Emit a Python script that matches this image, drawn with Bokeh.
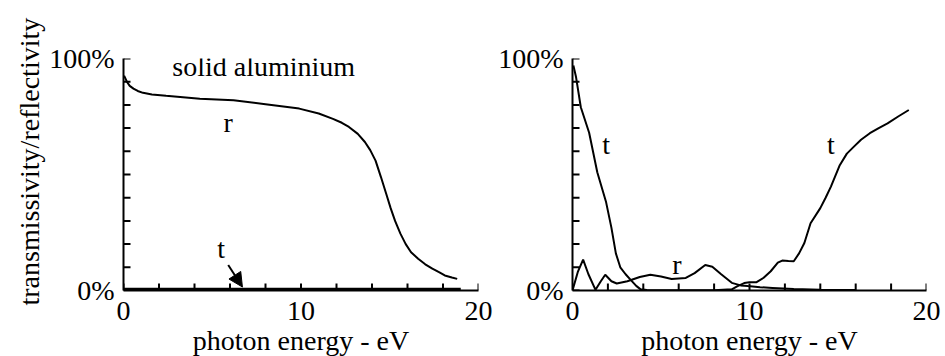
import math
from bokeh.plotting import figure
from bokeh.layouts import row
from bokeh.models import FixedTicker, Arrow, NormalHead, Range1d, Title
from bokeh.core.properties import value
from bokeh.embed import file_html
from bokeh.resources import INLINE

FONT = "Liberation Serif"

# ---- data (photon energy in eV, percent) ----
left_r_x = [0.0, 0.04, 0.19, 0.35, 0.56, 0.8, 1.1, 1.6, 2.4, 4.3, 6.2, 8.0, 9.9, 11.0, 11.8,
            12.3, 12.7, 13.2, 13.6, 13.9, 14.2, 14.5, 14.8, 15.05, 15.3, 15.6, 15.9, 16.2,
            16.6, 17.0, 17.4, 17.8, 18.1, 18.5, 18.8]
left_r_y = [92, 92.5, 90, 88.2, 87, 86, 85.2, 84.5, 83.9, 82.7, 82, 80.3, 78.4, 76.3, 74,
            72.3, 70.5, 67.5, 64, 60.5, 56, 49, 41.7, 35.5, 30, 24.5, 20, 16.5,
            13.7, 11.3, 9.4, 7.8, 6.5, 5.6, 5]
left_t_x = [0.0, 5.0, 10.0, 15.0, 19.0]
left_t_y = [0.4, 0.4, 0.4, 0.4, 0.4]

right_t_x = [0.05, 0.2, 0.47, 0.94, 1.4, 1.9, 2.2, 2.45, 2.7, 3.0, 3.3, 3.6, 3.85, 4.2, 6.0,
             8.0, 9.0, 9.3, 9.7, 10.0, 10.4, 10.8, 11.2, 11.6, 11.85, 12.2, 12.5, 12.8, 13.1,
             13.45, 14.0, 14.3, 14.6, 15.1, 15.5, 15.9, 16.3, 16.8, 17.3, 17.8, 18.4, 19.0]
right_t_y = [97, 92, 79, 68, 51, 38, 27, 16, 10, 7, 4.5, 2, 0.5, 0.2, 0.1,
             0.1, 0.5, 1.8, 3.2, 3.6, 3.6, 5.5, 8.3, 12, 12.9, 12.7, 12.6, 16, 20.5,
             29, 35.5, 40, 44.8, 54, 59, 62, 65, 67.8, 70, 72, 75, 77.8]
right_r_x = [0.0, 0.3, 0.6, 0.9, 1.3, 1.6, 1.85, 2.2, 2.5, 3.1, 3.8, 4.4, 5.0, 5.6, 6.4, 6.9,
             7.5, 7.9, 8.4, 9.0, 9.5, 9.9, 10.6, 11.3, 12.5, 14.0, 16.0]
right_r_y = [0, 8, 13.3, 7, 0.3, 4, 6.8, 4, 3, 4, 5.8, 6.8, 6, 5, 5.4, 7.5,
             11, 10.2, 7, 3.3, 2.2, 1.9, 1.4, 1.1, 0.6, 0.3, 0.2]

x_ticks = [0, 2, 4, 6, 8, 10, 12, 14, 16, 18, 20]
x_tick_labels = {0: "0", 2: "", 4: "", 6: "", 8: "", 10: "10", 12: "", 14: "", 16: "", 18: "", 20: "20"}
y_ticks = [0, 10, 20, 30, 40, 50, 60, 70, 80, 90, 100]
y_tick_labels = {0: "0%", 10: "", 20: "", 30: "", 40: "", 50: "", 60: "", 70: "", 80: "", 90: "", 100: "100%"}

FRAME_H = 232
TICK_PX = 7


def make_fig(fw, bl, br):
    p = figure(frame_width=fw, frame_height=FRAME_H, output_backend="svg", toolbar_location=None,
               x_range=Range1d(0, 20), y_range=Range1d(0, 100),
               min_border_left=bl, min_border_right=br, min_border_top=58, min_border_bottom=60)
    p.outline_line_color = None
    p.xgrid.visible = False
    p.ygrid.visible = False
    p.background_fill_color = None
    p.border_fill_color = "white"
    p.xaxis.ticker = FixedTicker(ticks=x_ticks)
    p.yaxis.ticker = FixedTicker(ticks=y_ticks)
    p.xaxis.major_label_overrides = x_tick_labels
    p.yaxis.major_label_overrides = y_tick_labels
    for ax in (p.xaxis, p.yaxis):
        ax.axis_line_width = 2
        ax.axis_line_color = "black"
        ax.major_tick_in = 0
        ax.major_tick_out = 0
        ax.major_tick_line_color = None
        ax.minor_tick_line_color = None
        ax.major_label_text_font = FONT
        ax.major_label_text_font_size = "28px"
        ax.major_label_text_color = "black"
        ax.axis_label_text_font = FONT
        ax.axis_label_text_font_size = "28px"
        ax.axis_label_text_font_style = "normal"
        ax.axis_label_text_color = "black"
    p.xaxis.major_label_standoff = 11
    p.yaxis.major_label_standoff = 9
    p.xaxis.axis_label = "photon energy - eV"
    p.xaxis.axis_label_standoff = 2
    # inward tick marks (length converted from pixels to data units)
    ty = TICK_PX * 100.0 / FRAME_H
    tx = TICK_PX * 20.0 / fw
    p.segment(x0=x_ticks, y0=0, x1=x_ticks, y1=ty, line_color="black", line_width=2)
    p.segment(x0=0, y0=y_ticks, x1=tx, y1=y_ticks, line_color="black", line_width=2)
    return p


left = make_fig(355, 123, 17)
left.line(left_r_x, left_r_y, line_color="black", line_width=2)
left.line(left_t_x, left_t_y, line_color="black", line_width=3.5)
left.add_layout(Arrow(end=NormalHead(size=14, fill_color="black", line_color="black"),
                      x_start=5.9, y_start=11, x_end=6.7, y_end=1.5,
                      line_width=2, line_color="black"))
left.text(x=[7.9, 5.9, 5.5], y=[96.4, 72.6, 18], text=["solid aluminium", "r", "t"],
          text_font=value(FONT), text_font_size="28px", text_align="center",
          text_baseline="middle", text_color="black")
left.add_layout(Title(text="transmissivity/reflectivity", align="left", offset=-15,
                      text_font=FONT, text_font_size="28px", text_font_style="normal",
                      text_color="black", standoff=4), "left")

right = make_fig(354, 77, 19)
right.line(right_t_x, right_t_y, line_color="black", line_width=2)
right.line(right_r_x, right_r_y, line_color="black", line_width=2)
right.text(x=[1.9, 14.6, 5.9], y=[62.8, 62.8, 11], text=["t", "t", "r"],
           text_font=value(FONT), text_font_size="28px", text_align="center",
           text_baseline="middle", text_color="black")

layout = row(left, right)
open("out.html", "w").write(file_html(layout, INLINE))
